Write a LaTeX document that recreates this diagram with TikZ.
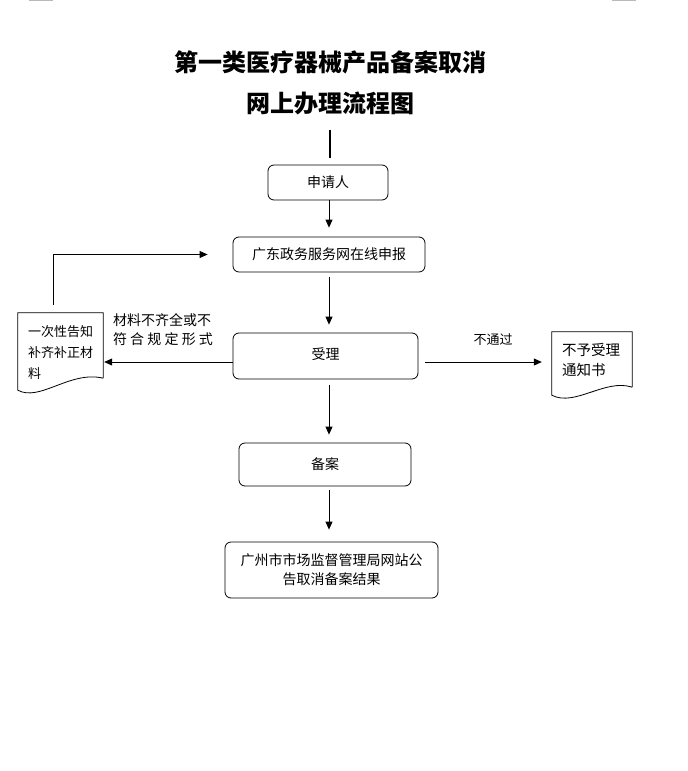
\documentclass[tikz,border=0pt]{standalone}
\usepackage{fontspec}
\newfontfamily\cjk{Noto Sans CJK SC}
\usetikzlibrary{arrows.meta}
\begin{document}
\begin{tikzpicture}[x=1pt,y=-1pt,
  box/.style={draw, rounded corners=6pt, line width=0.8pt, inner sep=0pt,
    font=\cjk\fontsize{14}{19}\selectfont, align=center},
  arr/.style={-{Triangle[length=8pt,width=7pt]}, line width=0.8pt},
  docline/.style={draw, line width=0.8pt},
  lbl/.style={inner sep=0pt, align=left},
  title/.style={inner sep=0pt, font=\cjk\bfseries\fontsize{24}{24}\selectfont}]
\useasboundingbox (0,0) rectangle (688,771);
% page marks
\draw[gray!55, line width=1.5pt] (29,0.5) -- (53,0.5);
\draw[gray!55, line width=1.5pt] (612,0.5) -- (636,0.5);
% title
\node[title] (t1) at (330,62) {第一类医疗器械产品备案取消};
\node[title] (t2) at (330,103) {网上办理流程图};
% boxes
\node[box, minimum width=120pt, minimum height=35pt] (sq) at (328,182.5) {申请人};
\node[box, minimum width=192pt, minimum height=35pt] (gd) at (329,254.5) {广东政务服务网在线申报};
\node[box, minimum width=185pt, minimum height=46pt] (sl) at (325.5,356) {\raisebox{4pt}{受理}};
\node[box, minimum width=172pt, minimum height=43pt] (ba) at (325,464.5) {\raisebox{2pt}{备案}};
\node[box, minimum width=213pt, minimum height=56pt] (jg) at (331.5,570) {广州市市场监督管理局网站公\\告取消备案结果};
% documents
\node[minimum width=85pt, minimum height=65pt, inner sep=0pt] (d1) at (60.5,345.5) {};
\draw[docline] (d1.south east) -- (d1.north east) -- (d1.north west) -- ([yshift=-12pt]d1.south west)
  .. controls ([xshift=22pt,yshift=-24pt]d1.south west) and ([xshift=-33pt,yshift=8pt]d1.south east) .. (d1.south east);
\node[lbl, anchor=west, font=\cjk\fontsize{13}{21}\selectfont] (d1t) at (28,353) {一次性告知\\补齐补正材\\料};
\node[minimum width=80pt, minimum height=55pt, inner sep=0pt] (d2) at (592,359.5) {};
\draw[docline] (d2.south east) -- (d2.north east) -- (d2.north west) -- ([yshift=-8pt]d2.south west)
  .. controls ([xshift=23pt,yshift=-20pt]d2.south west) and ([xshift=-27pt,yshift=9pt]d2.south east) .. (d2.south east);
\node[lbl, anchor=west, font=\cjk\fontsize{14.5}{20}\selectfont] (d2t) at (562,360) {不予受理\\通知书};
% labels
\node[lbl, font=\cjk\fontsize{14}{19}\selectfont] (lb1) at (163,329.5) {材料不齐全或不\\\makebox[100pt][s]{符 合 规 定 形 式}};
\node[lbl, font=\cjk\fontsize{13}{16}\selectfont] (lb2) at (493,340) {不通过};
% helper coordinates
\coordinate (ax) at (329,0);
\coordinate (top) at (330,130);
\coordinate (ly) at (0,362);
\coordinate (lx) at (53,0);
% connectors
\draw[line width=2pt, shorten >=7pt] (top) -- (sq.north -| top);
\draw[arr, shorten >=9pt] (sq.south -| ax) -- (gd.north -| ax);
\draw[arr, shorten <=5pt, shorten >=8pt] (gd.south -| ax) -- (sl.north -| ax);
\draw[arr, shorten <=6pt, shorten >=8pt] (sl.south -| ax) -- (ba.north -| ax);
\draw[arr, shorten <=4pt, shorten >=12pt] (ba.south -| ax) -- (jg.north -| ax);
\draw[arr, shorten >=1pt] (sl.west |- ly) -- (d1.east |- ly);
\draw[arr, shorten <=7pt, shorten >=10pt] (sl.east |- ly) -- (d2.west |- ly);
\draw[arr, shorten <=8pt, shorten >=25pt] (d1.north -| lx) |- (gd.west);
\end{tikzpicture}
\end{document}
